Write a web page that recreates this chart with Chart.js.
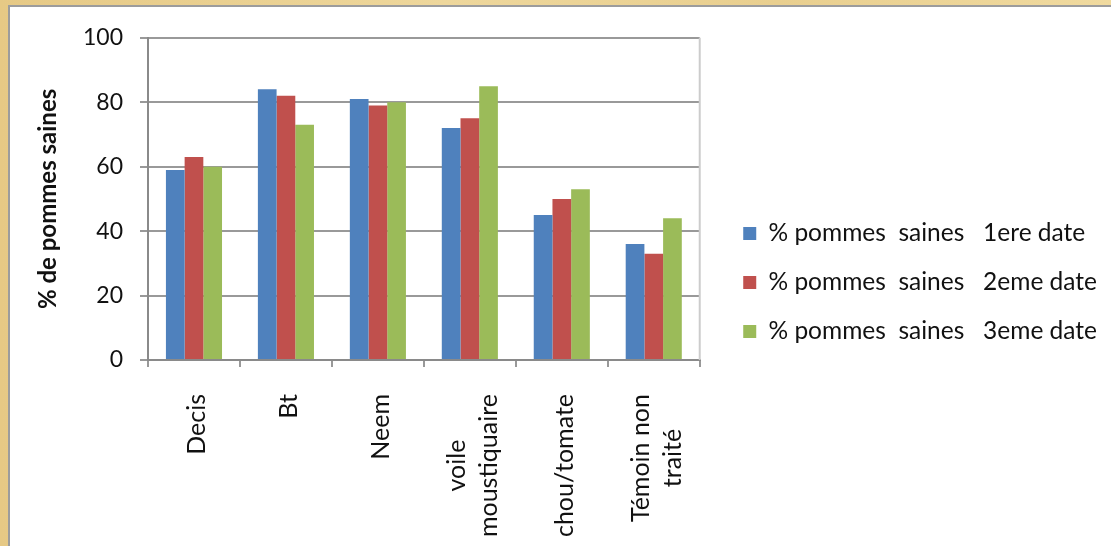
<!DOCTYPE html>
<html>
<head>
<meta charset="utf-8">
<script src="https://cdn.jsdelivr.net/npm/chart.js@4"></script>
<style>
  html, body { margin: 0; padding: 0; }
  body {
    width: 1111px; height: 546px; overflow: hidden;
    background: linear-gradient(90deg, #e6c985, #eed79c 40%, #e9cf8f 70%, #f0da9f);
  }
  #frame {
    position: absolute; left: 8px; top: 5px;
    border-left: 2px solid #9c9c9c; border-top: 2px solid #9c9c9c;
    background: #fff; width: 1101px; height: 539px;
  }
</style>
</head>
<body>
<div id="frame"><canvas id="chart" width="1101" height="539"></canvas></div>
<script>
const categories = ['Decis', 'Bt', 'Neem', ['voile', 'moustiquaire'], 'chou/tomate', ['Témoin non', 'traité']];
const seriesNames = [
  '% pommes  saines   1ere date',
  '% pommes  saines   2eme date',
  '% pommes  saines   3eme date'
];
const date1 = [59, 84, 81, 72, 45, 36];
const date2 = [63, 82, 79, 75, 50, 33];
const date3 = [60, 73, 80, 85, 53, 44];
const colors = ['#4f81bd', '#c0504d', '#9bbb59'];

Chart.defaults.font.family = 'Lato';
Chart.defaults.color = '#111';

// category labels drawn vertically, lines centred like the original
const xLabels = {
  id: 'xLabels',
  afterLayout(chart) {
    chart.legend.left += 19;
    chart.legend.right = chart.width;
    chart.legend.top -= 17;
  },
  afterDraw(chart) {
    const ctx = chart.ctx, sc = chart.scales.x, area = chart.chartArea;
    ctx.save();
    ctx.strokeStyle = '#cccccc';
    ctx.lineWidth = 2;
    ctx.beginPath();
    ctx.moveTo(area.right, area.top);
    ctx.lineTo(area.right, area.bottom);
    ctx.stroke();

    ctx.font = '25px Lato';
    ctx.fillStyle = '#111';
    ctx.textAlign = 'center';
    ctx.textBaseline = 'middle';
    categories.forEach((c, i) => {
      const lines = [].concat(c);
      const w = Math.max(...lines.map(l => ctx.measureText(l).width));
      ctx.save();
      ctx.translate(sc.getPixelForTick(i) + 3, sc.top + 34);
      ctx.rotate(-Math.PI / 2);
      lines.forEach((l, j) => ctx.fillText(l, -w / 2, (j - (lines.length - 1) / 2) * 32));
      ctx.restore();
    });
    ctx.restore();
  }
};

function draw() {
  new Chart(document.getElementById('chart'), {
    type: 'bar',
    data: {
      labels: categories,
      datasets: [date1, date2, date3].map((d, i) => ({
        label: seriesNames[i],
        data: d,
        backgroundColor: colors[i],
        borderWidth: 0,
        categoryPercentage: 0.61,
        barPercentage: 1
      }))
    },
    options: {
      responsive: false,
      animation: false,
      layout: { padding: { top: 29, left: 0, right: 23, bottom: 0 } },
      plugins: {
        tooltip: { enabled: false },
        legend: {
          position: 'right',
          maxWidth: 600,
          labels: { font: { size: 24.5 }, boxWidth: 13, boxHeight: 13, padding: 24.5, color: '#111' }
        }
      },
      scales: {
        x: {
          ticks: { display: false },
          grid: { offset: true, drawOnChartArea: false, tickLength: 7, color: '#999', lineWidth: 2 },
          border: { color: '#8a8a8a', width: 2 },
          afterFit(s) { s.height = 186; }
        },
        y: {
          min: 0, max: 100,
          ticks: { stepSize: 20, padding: 17, font: { size: 23 } },
          grid: { color: '#999', lineWidth: 2, tickLength: 8 },
          border: { color: '#8a8a8a', width: 2 },
          title: {
            display: true, text: '% de pommes saines',
            font: { size: 24, weight: 'bold' }, padding: { top: 24, bottom: 0 }
          },
          afterFit(s) { s.width = 138; }
        }
      }
    },
    plugins: [xLabels]
  });
}

Promise.all([
  document.fonts.load('25px Lato'),
  document.fonts.load('24.5px Lato'),
  document.fonts.load('bold 24px Lato')
]).then(draw, draw);
</script>
</body>
</html>
